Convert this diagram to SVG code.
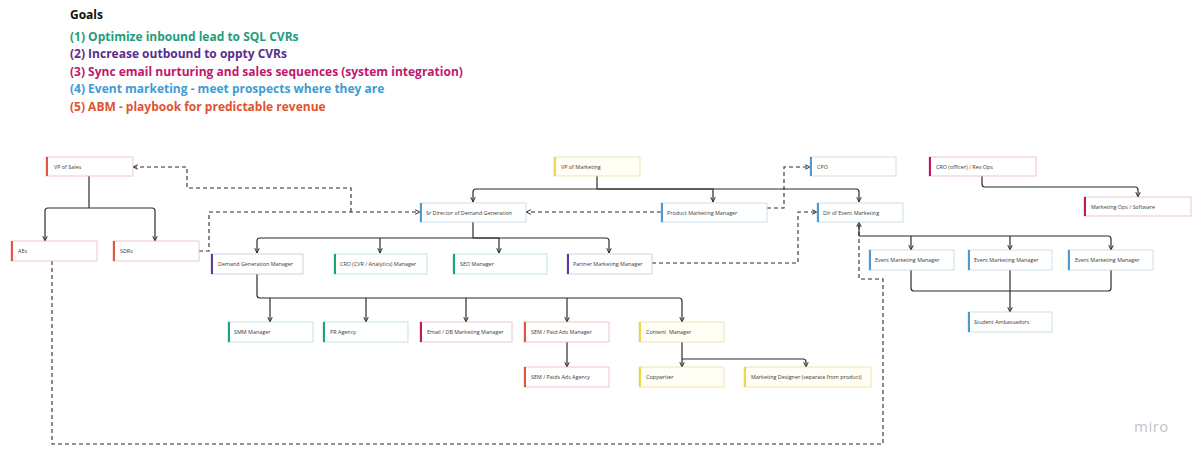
<svg xmlns="http://www.w3.org/2000/svg" width="1200" height="462" viewBox="0 0 1200 462">
<style>
.g{font-family:"Open Sans","Liberation Sans",sans-serif;font-weight:700;font-size:12px}
.b{fill:#fff;stroke:#d4d4d4;stroke-width:0.9}
.b.R{stroke:#e8c4bc}.b.Y{stroke:#ede2ad;fill:#fffdf4}.b.B{stroke:#c6dbea}.b.M{stroke:#e4bfd0}.b.P{stroke:#d2cbe2}.b.T{stroke:#bde0d4}
.t{font-family:"Open Sans","Liberation Sans",sans-serif;font-size:5.4px;fill:#3a3a3a}
.s{fill:none;stroke:#2b2b2b;stroke-width:1.2}
.d{fill:none;stroke:#2b2b2b;stroke-width:1.1;stroke-dasharray:4 3}
.red{fill:#e0573d}.yel{fill:#efd44c}.blu{fill:#4a9ad4}.mag{fill:#c2185b}.pur{fill:#5b3c9b}.tea{fill:#1aa37e}
</style>
<defs>
<marker id="ar" viewBox="0 0 8 8" refX="7.5" refY="4" markerWidth="6" markerHeight="6" markerUnits="userSpaceOnUse" orient="auto">
<path d="M1,1 L7.5,4 L1,7" fill="none" stroke="#2b2b2b" stroke-width="1.3"/>
</marker>
</defs>
<rect width="1200" height="462" fill="#fff"/>

<g id="goals">
<text class="g" x="70" y="19" fill="#111">Goals</text>
<text class="g" x="70" y="41" fill="#1f9d7b">(1) Optimize inbound lead to SQL CVRs</text>
<text class="g" x="70" y="58" fill="#5a2d8c">(2) Increase outbound to oppty CVRs</text>
<text class="g" x="70" y="76" fill="#c0186c">(3) Sync email nurturing and sales sequences (system integration)</text>
<text class="g" x="70" y="93" fill="#3f9bd3">(4) Event marketing - meet prospects where they are</text>
<text class="g" x="70" y="111" fill="#e0532f">(5) ABM - playbook for predictable revenue</text>
</g>

<g id="connectors">
<path class="s" d="M89,176 V208"/>
<path class="s" marker-end="url(#ar)" d="M89,208 H48 Q45,208 45,211 V241"/>
<path class="s" marker-end="url(#ar)" d="M89,208 H152 Q155,208 155,211 V241"/>
<path class="s" d="M597,176 V189"/>
<path class="s" marker-end="url(#ar)" d="M597,189 H476 Q473,189 473,192 V202"/>
<path class="s" marker-end="url(#ar)" d="M597,189 H713 V202"/>
<path class="s" marker-end="url(#ar)" d="M597,189 H856 Q859,189 859,192 V202"/>
<path class="s" d="M473,222 V238"/>
<path class="s" marker-end="url(#ar)" d="M473,238 H260 Q257,238 257,241 V253"/>
<path class="s" marker-end="url(#ar)" d="M380,238 V253"/>
<path class="s" marker-end="url(#ar)" d="M473,238 H499 V253"/>
<path class="s" marker-end="url(#ar)" d="M473,238 H606 Q609,238 609,241 V253"/>
<path class="s" marker-end="url(#ar)" d="M257,274 V295 Q257,298 260,298 H679 Q682,298 682,301 V322"/>
<path class="s" marker-end="url(#ar)" d="M270,298 V322"/>
<path class="s" marker-end="url(#ar)" d="M366,298 V322"/>
<path class="s" marker-end="url(#ar)" d="M466,298 V322"/>
<path class="s" marker-end="url(#ar)" d="M567,298 V322"/>
<path class="s" marker-end="url(#ar)" d="M567,342 V367"/>
<path class="s" marker-end="url(#ar)" d="M682,342 V367"/>
<path class="s" marker-end="url(#ar)" d="M682,359 H803 Q806,359 806,362 V367"/>
<path class="s" marker-end="url(#ar)" d="M982,176 V184 Q982,187 985,187 H1135 Q1138,187 1138,190 V197"/>
<path class="s" d="M859,224 V236"/>
<path class="s" marker-end="url(#ar)" d="M859,236 H1108 Q1111,236 1111,239 V250"/>
<path class="s" marker-end="url(#ar)" d="M911,236 V250"/>
<path class="s" marker-end="url(#ar)" d="M1010,236 V250"/>
<path class="s" d="M911,270 V288 Q911,291 914,291 H1108 Q1111,291 1111,288 V270"/>
<path class="s" marker-end="url(#ar)" d="M1010,270 V312"/>
<path class="d" marker-end="url(#ar)" d="M199,251 H209 V212 H420"/>
<path class="d" marker-end="url(#ar)" d="M351,212 V188 H187 V167 H133"/>
<path class="d" marker-end="url(#ar)" d="M661,212 H526"/>
<path class="d" marker-end="url(#ar)" d="M767,208 H784 V167 H810"/>
<path class="d" marker-end="url(#ar)" d="M652,263 H798 V212 H817"/>
<path class="d" marker-end="url(#ar)" d="M52,261 V444 H883 V279 H859 V222"/>
</g>

<g id="vp-sales"><rect class="b R" x="46" y="157" width="87" height="19"/><rect class="red" x="46" y="157" width="2" height="19"/><text class="t" x="54" y="168.5">VP of Sales</text></g>
<g id="aes"><rect class="b R" x="11" y="241" width="86" height="20"/><rect class="red" x="11" y="241" width="2" height="20"/><text class="t" x="18" y="253">AEs</text></g>
<g id="sdrs"><rect class="b R" x="113" y="241" width="86" height="20"/><rect class="red" x="113" y="241" width="2" height="20"/><text class="t" x="120" y="253">SDRs</text></g>
<g id="vp-marketing"><rect class="b Y" x="554" y="157" width="86" height="19"/><rect class="yel" x="554" y="157" width="2" height="19"/><text class="t" x="561" y="168.5">VP of Marketing</text></g>
<g id="cpo"><rect class="b B" x="810" y="157" width="86" height="19"/><rect class="blu" x="810" y="157" width="2" height="19"/><text class="t" x="817" y="168.5">CPO</text></g>
<g id="cro-officer"><rect class="b M" x="929" y="157" width="107" height="19"/><rect class="mag" x="929" y="157" width="2" height="19"/><text class="t" x="936" y="168.5">CRO (officer) / Rev Ops</text></g>
<g id="mkt-ops"><rect class="b M" x="1084" y="197" width="107" height="19"/><rect class="mag" x="1084" y="197" width="2" height="19"/><text class="t" x="1091" y="208.5">Marketing Ops / Software</text></g>
<g id="sr-director"><rect class="b B" x="420" y="203" width="106" height="19"/><rect class="blu" x="420" y="203" width="2" height="19"/><text class="t" x="426" y="214.5">Sr Director of Demand Generation</text></g>
<g id="pmm"><rect class="b B" x="661" y="203" width="106" height="19"/><rect class="blu" x="661" y="203" width="2" height="19"/><text class="t" x="667" y="214.5">Product Marketing Manager</text></g>
<g id="dir-event"><rect class="b B" x="817" y="203" width="86" height="19"/><rect class="blu" x="817" y="203" width="2" height="19"/><text class="t" x="823" y="214.5">Dir of Event Marketing</text></g>
<g id="dgm"><rect class="b P" x="211" y="254" width="92" height="20"/><rect class="pur" x="211" y="254" width="2" height="20"/><text class="t" x="218" y="266">Demand Generation Manager</text></g>
<g id="cro-cvr"><rect class="b T" x="334" y="254" width="93" height="20"/><rect class="tea" x="334" y="254" width="2" height="20"/><text class="t" x="340" y="266">CRO (CVR / Analytics) Manager</text></g>
<g id="seo"><rect class="b T" x="453" y="254" width="94" height="20"/><rect class="tea" x="453" y="254" width="2" height="20"/><text class="t" x="460" y="266">SEO Manager</text></g>
<g id="partner"><rect class="b P" x="567" y="254" width="85" height="20"/><rect class="pur" x="567" y="254" width="2" height="20"/><text class="t" x="573" y="266">Partner Marketing Manager</text></g>
<g id="emm1"><rect class="b B" x="869" y="250" width="85" height="20"/><rect class="blu" x="869" y="250" width="2" height="20"/><text class="t" x="875" y="262">Event Marketing Manager</text></g>
<g id="emm2"><rect class="b B" x="968" y="250" width="84" height="20"/><rect class="blu" x="968" y="250" width="2" height="20"/><text class="t" x="974" y="262">Event Marketing Manager</text></g>
<g id="emm3"><rect class="b B" x="1068" y="250" width="85" height="20"/><rect class="blu" x="1068" y="250" width="2" height="20"/><text class="t" x="1075" y="262">Event Marketing Manager</text></g>
<g id="student"><rect class="b B" x="968" y="312" width="84" height="20"/><rect class="blu" x="968" y="312" width="2" height="20"/><text class="t" x="974" y="324">Student Ambassadors</text></g>
<g id="smm"><rect class="b T" x="228" y="322" width="85" height="20"/><rect class="tea" x="228" y="322" width="2" height="20"/><text class="t" x="234" y="334">SMM Manager</text></g>
<g id="pr"><rect class="b T" x="323" y="322" width="85" height="20"/><rect class="tea" x="323" y="322" width="2" height="20"/><text class="t" x="330" y="334">PR Agency</text></g>
<g id="email"><rect class="b M" x="420" y="322" width="92" height="20"/><rect class="mag" x="420" y="322" width="2" height="20"/><text class="t" x="427" y="334">Email / DB Marketing Manager</text></g>
<g id="sem-mgr"><rect class="b R" x="524" y="322" width="85" height="20"/><rect class="red" x="524" y="322" width="2" height="20"/><text class="t" x="531" y="334">SEM / Paid Ads Manager</text></g>
<g id="content"><rect class="b Y" x="639" y="322" width="85" height="20"/><rect class="yel" x="639" y="322" width="2" height="20"/><text class="t" x="646" y="334" xml:space="preserve">Content  Manager</text></g>
<g id="sem-agency"><rect class="b R" x="524" y="367" width="85" height="20"/><rect class="red" x="524" y="367" width="2" height="20"/><text class="t" x="531" y="379">SEM / Paids Ads Agency</text></g>
<g id="copywriter"><rect class="b Y" x="639" y="367" width="85" height="20"/><rect class="yel" x="639" y="367" width="2" height="20"/><text class="t" x="646" y="379">Copywriter</text></g>
<g id="designer"><rect class="b Y" x="744" y="367" width="127" height="20"/><rect class="yel" x="744" y="367" width="2" height="20"/><text class="t" x="751" y="379">Marketing Designer (separate from product)</text></g>

<text x="1134" y="432" font-family="'Open Sans','Liberation Sans',sans-serif" font-size="15" fill="#c4c4c4" letter-spacing="0.5">miro</text>
</svg>
